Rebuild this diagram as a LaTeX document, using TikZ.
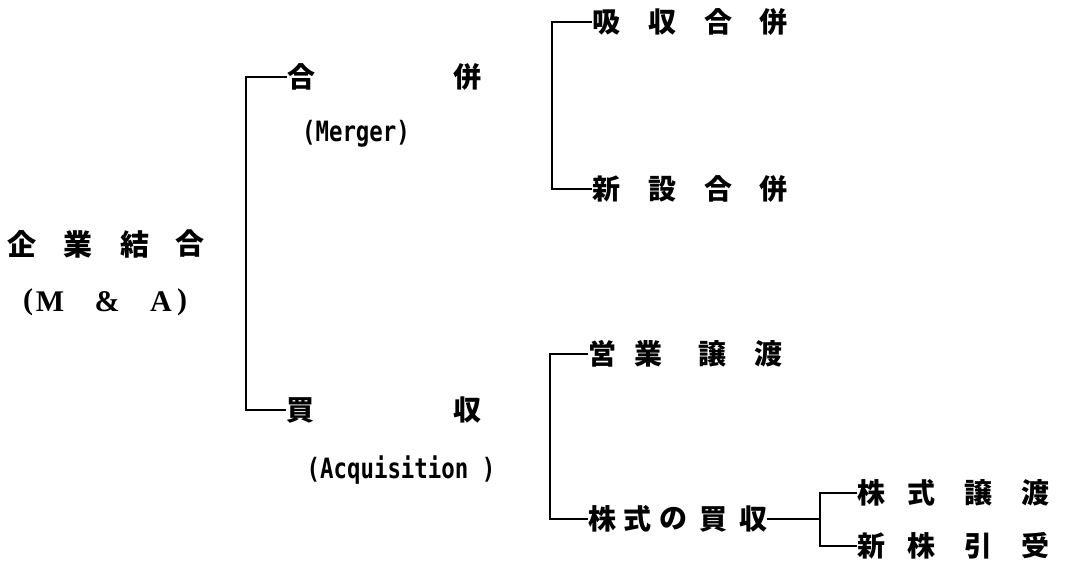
\documentclass[tikz,border=0pt]{standalone}
\usepackage{fontspec}
\newfontfamily\cjk{Noto Sans CJK JP}
\newfontfamily\monof[FakeStretch=0.8]{DejaVu Sans Mono}
\newfontfamily\serf{Liberation Serif}
\begin{document}
\begin{tikzpicture}[x=1pt,y=-1pt,
  ch/.style={inner sep=0pt,font=\cjk\bfseries\fontsize{28}{28}\selectfont},
  root/.style={inner sep=0pt,font=\cjk\bfseries\fontsize{29}{29}\selectfont},
  lat/.style={inner sep=0pt,font=\serf\bfseries\fontsize{30}{30}\selectfont},
  mono/.style={inner sep=0pt,font=\monof\bfseries\fontsize{28}{28}\selectfont},
  link/.style={line width=1.8pt}]
\useasboundingbox (0,0) rectangle (1066,563);
% root
\node[root] (r1) at (22,244) {企};
\node[root] (r2) at (78,244) {業};
\node[root] (r3) at (135,244) {結};
\node[root] (r4) at (190,244) {合};
\node[lat] (ma1) at (28,302) {(};
\node[lat] (ma2) at (50,302) {M};
\node[lat] (ma3) at (107,302) {\&};
\node[lat] (ma4) at (161,302) {A};
\node[lat] (ma5) at (182,302) {)};
% level 1
\node[ch] (g1) at (301,77) {合};
\node[ch] (g2) at (467,77) {併};
\node[mono] (gm) at (356,134) {(Merger)};
\node[ch] (k1) at (300,410) {買};
\node[ch] (k2) at (467,410) {収};
\node[mono] (ka) at (401,470) {(Acquisition )};
% merger children
\node[ch] (a1) at (606,22) {吸};
\node[ch] (a2) at (662,22) {収};
\node[ch] (a3) at (718,22) {合};
\node[ch] (a4) at (773,22) {併};
\node[ch] (b1) at (606,189) {新};
\node[ch] (b2) at (662,189) {設};
\node[ch] (b3) at (718,189) {合};
\node[ch] (b4) at (773,189) {併};
% acquisition children
\node[ch] (c1) at (602,354) {営};
\node[ch] (c2) at (648,354) {業};
\node[ch] (c3) at (712,354) {譲};
\node[ch] (c4) at (768,354) {渡};
\node[ch] (d1) at (602,519) {株};
\node[ch] (d2) at (637,519) {式};
\node[ch] (d3) at (673,519) {の};
\node[ch] (d4) at (713,519) {買};
\node[ch] (d5) at (753,519) {収};
% share purchase children
\node[ch] (e1) at (871,493) {株};
\node[ch] (e2) at (921,493) {式};
\node[ch] (e3) at (978,493) {譲};
\node[ch] (e4) at (1035,493) {渡};
\node[ch] (f1) at (871,546) {新};
\node[ch] (f2) at (921,546) {株};
\node[ch] (f3) at (978,546) {引};
\node[ch] (f4) at (1035,546) {受};
% bracket joints
\coordinate (j0) at (246,244);
\coordinate (j1) at (552,105);
\coordinate (j2) at (550,436);
\coordinate (j3) at (820,519);
% connectors
\draw[link] (g1.west) -| (j0) |- (k1.west);
\draw[link] (a1.west) -| (j1) |- (b1.west);
\draw[link] (c1.west) -| (j2) |- (d1.west);
\draw[link] (d5.east) -- (j3);
\draw[link] (e1.west) -| (j3) |- (f1.west);
\end{tikzpicture}
\end{document}
